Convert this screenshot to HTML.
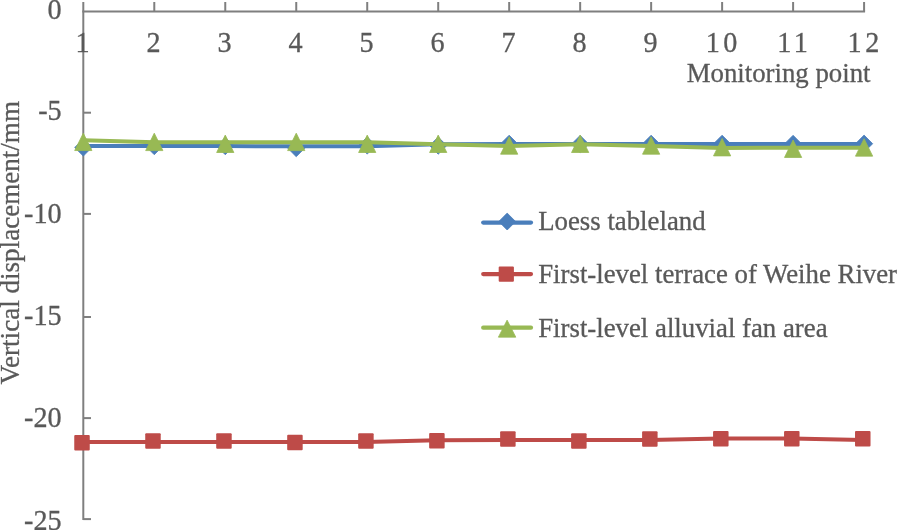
<!DOCTYPE html><html><head><meta charset="utf-8"><style>html,body{margin:0;padding:0;background:#fff;width:900px;height:530px;overflow:hidden}svg{display:block}text{font-family:"Liberation Serif","Times New Roman",serif;fill:#595959;font-size:26.8px;stroke:#595959;stroke-width:0.3px}</style></head><body>
<svg width="900" height="530" viewBox="0 0 900 530">
<rect width="900" height="530" fill="#fff"/>
<g stroke="#7f7f7f" stroke-width="2" fill="none">
<line x1="83.3" y1="2" x2="83.3" y2="520.1"/>
<line x1="82.3" y1="11.4" x2="865.08" y2="11.4"/>
<line x1="154.28" y1="2" x2="154.28" y2="11.4"/>
<line x1="225.26" y1="2" x2="225.26" y2="11.4"/>
<line x1="296.24" y1="2" x2="296.24" y2="11.4"/>
<line x1="367.22" y1="2" x2="367.22" y2="11.4"/>
<line x1="438.20" y1="2" x2="438.20" y2="11.4"/>
<line x1="509.18" y1="2" x2="509.18" y2="11.4"/>
<line x1="580.16" y1="2" x2="580.16" y2="11.4"/>
<line x1="651.14" y1="2" x2="651.14" y2="11.4"/>
<line x1="722.12" y1="2" x2="722.12" y2="11.4"/>
<line x1="793.10" y1="2" x2="793.10" y2="11.4"/>
<line x1="864.08" y1="2" x2="864.08" y2="11.4"/>
<line x1="83.3" y1="112.70" x2="91" y2="112.70"/>
<line x1="83.3" y1="213.90" x2="91" y2="213.90"/>
<line x1="83.3" y1="317.00" x2="91" y2="317.00"/>
<line x1="83.3" y1="418.10" x2="91" y2="418.10"/>
<line x1="83.3" y1="519.10" x2="91" y2="519.10"/>
</g>
<text transform="translate(61.70 19.00) scale(1 1.035)" text-anchor="end" style="font-size:28.2px">0</text>
<text transform="translate(61.70 120.10) scale(1 1.035)" text-anchor="end" style="font-size:28.2px">-5</text>
<text transform="translate(61.70 222.60) scale(1 1.035)" text-anchor="end" style="font-size:28.2px">-10</text>
<text transform="translate(61.70 325.10) scale(1 1.035)" text-anchor="end" style="font-size:28.2px">-15</text>
<text transform="translate(61.70 427.20) scale(1 1.035)" text-anchor="end" style="font-size:28.2px">-20</text>
<text transform="translate(61.70 530.30) scale(1 1.035)" text-anchor="end" style="font-size:28.2px">-25</text>
<text transform="translate(82.60 52.20) scale(1 1.035)" text-anchor="middle" style="font-size:28.2px">1</text>
<text transform="translate(153.58 52.20) scale(1 1.035)" text-anchor="middle" style="font-size:28.2px">2</text>
<text transform="translate(224.56 52.20) scale(1 1.035)" text-anchor="middle" style="font-size:28.2px">3</text>
<text transform="translate(295.54 52.20) scale(1 1.035)" text-anchor="middle" style="font-size:28.2px">4</text>
<text transform="translate(366.52 52.20) scale(1 1.035)" text-anchor="middle" style="font-size:28.2px">5</text>
<text transform="translate(437.50 52.20) scale(1 1.035)" text-anchor="middle" style="font-size:28.2px">6</text>
<text transform="translate(508.48 52.20) scale(1 1.035)" text-anchor="middle" style="font-size:28.2px">7</text>
<text transform="translate(579.46 52.20) scale(1 1.035)" text-anchor="middle" style="font-size:28.2px">8</text>
<text transform="translate(650.44 52.20) scale(1 1.035)" text-anchor="middle" style="font-size:28.2px">9</text>
<text transform="translate(723.32 52.20) scale(1 1.035)" text-anchor="middle" letter-spacing="3.6" style="font-size:28.2px">10</text>
<text transform="translate(794.30 52.20) scale(1 1.035)" text-anchor="middle" letter-spacing="3.6" style="font-size:28.2px">11</text>
<text transform="translate(865.28 52.20) scale(1 1.035)" text-anchor="middle" letter-spacing="3.6" style="font-size:28.2px">12</text>
<text transform="translate(870.50 81.50) scale(1 1.04)" text-anchor="end" >Monitoring point</text>
<text transform="translate(19 384.5) rotate(-90) scale(1 1.04)" text-anchor="start" style="font-size:27.1px">Vertical displacement/mm</text>
<polyline points="83.30,145.95 154.28,146.00 225.26,146.10 296.24,146.20 367.22,146.20 438.20,144.20 509.18,143.90 580.16,143.90 651.14,143.90 722.12,143.90 793.10,143.90 864.08,143.90" fill="none" stroke="#4a7ebb" stroke-width="4" stroke-linejoin="round" stroke-linecap="round"/>
<path d="M83.30 138.90L91.90 147.50L83.30 156.10L74.70 147.50Z" fill="#4a7ebb" stroke="#4a7ebb" stroke-width="0.8" stroke-linejoin="round"/>
<path d="M154.28 137.50L162.88 146.10L154.28 154.70L145.68 146.10Z" fill="#4a7ebb" stroke="#4a7ebb" stroke-width="0.8" stroke-linejoin="round"/>
<path d="M225.26 137.50L233.86 146.10L225.26 154.70L216.66 146.10Z" fill="#4a7ebb" stroke="#4a7ebb" stroke-width="0.8" stroke-linejoin="round"/>
<path d="M296.24 139.50L304.84 148.10L296.24 156.70L287.64 148.10Z" fill="#4a7ebb" stroke="#4a7ebb" stroke-width="0.8" stroke-linejoin="round"/>
<path d="M367.22 136.90L375.82 145.50L367.22 154.10L358.62 145.50Z" fill="#4a7ebb" stroke="#4a7ebb" stroke-width="0.8" stroke-linejoin="round"/>
<path d="M438.20 137.00L446.80 145.60L438.20 154.20L429.60 145.60Z" fill="#4a7ebb" stroke="#4a7ebb" stroke-width="0.8" stroke-linejoin="round"/>
<path d="M509.18 135.20L517.78 143.80L509.18 152.40L500.58 143.80Z" fill="#4a7ebb" stroke="#4a7ebb" stroke-width="0.8" stroke-linejoin="round"/>
<path d="M580.16 135.40L588.76 144.00L580.16 152.60L571.56 144.00Z" fill="#4a7ebb" stroke="#4a7ebb" stroke-width="0.8" stroke-linejoin="round"/>
<path d="M651.14 135.20L659.74 143.80L651.14 152.40L642.54 143.80Z" fill="#4a7ebb" stroke="#4a7ebb" stroke-width="0.8" stroke-linejoin="round"/>
<path d="M722.12 135.20L730.72 143.80L722.12 152.40L713.52 143.80Z" fill="#4a7ebb" stroke="#4a7ebb" stroke-width="0.8" stroke-linejoin="round"/>
<path d="M793.10 135.30L801.70 143.90L793.10 152.50L784.50 143.90Z" fill="#4a7ebb" stroke="#4a7ebb" stroke-width="0.8" stroke-linejoin="round"/>
<path d="M864.08 135.10L872.68 143.70L864.08 152.30L855.48 143.70Z" fill="#4a7ebb" stroke="#4a7ebb" stroke-width="0.8" stroke-linejoin="round"/>
<polyline points="82.00,442.10 152.98,442.10 223.96,442.10 294.94,442.10 365.92,442.10 436.90,440.20 507.88,440.10 578.86,440.10 649.84,440.10 720.82,438.50 791.80,438.40 862.78,440.00" fill="none" stroke="#be4b48" stroke-width="4" stroke-linejoin="round" stroke-linecap="round"/>
<rect x="74.25" y="434.95" width="15.50" height="15.50" rx="1" fill="#be4b48"/>
<rect x="145.23" y="433.25" width="15.50" height="15.50" rx="1" fill="#be4b48"/>
<rect x="216.21" y="433.25" width="15.50" height="15.50" rx="1" fill="#be4b48"/>
<rect x="287.19" y="434.75" width="15.50" height="15.50" rx="1" fill="#be4b48"/>
<rect x="358.17" y="433.25" width="15.50" height="15.50" rx="1" fill="#be4b48"/>
<rect x="429.15" y="433.05" width="15.50" height="15.50" rx="1" fill="#be4b48"/>
<rect x="500.13" y="431.15" width="15.50" height="15.50" rx="1" fill="#be4b48"/>
<rect x="571.11" y="433.15" width="15.50" height="15.50" rx="1" fill="#be4b48"/>
<rect x="642.09" y="431.15" width="15.50" height="15.50" rx="1" fill="#be4b48"/>
<rect x="713.07" y="430.95" width="15.50" height="15.50" rx="1" fill="#be4b48"/>
<rect x="784.05" y="431.05" width="15.50" height="15.50" rx="1" fill="#be4b48"/>
<rect x="855.03" y="431.05" width="15.50" height="15.50" rx="1" fill="#be4b48"/>
<polyline points="83.30,140.30 154.28,142.30 225.26,142.20 296.24,142.20 367.22,142.30 438.20,144.20 509.18,146.00 580.16,144.30 651.14,146.10 722.12,147.90 793.10,147.85 864.08,147.85" fill="none" stroke="#98b954" stroke-width="4" stroke-linejoin="round" stroke-linecap="round"/>
<path d="M83.30 133.15L91.90 150.55L74.70 150.55Z" fill="#98b954" stroke="#98b954" stroke-width="0.8" stroke-linejoin="round"/>
<path d="M154.28 133.20L162.88 150.60L145.68 150.60Z" fill="#98b954" stroke="#98b954" stroke-width="0.8" stroke-linejoin="round"/>
<path d="M225.26 135.10L233.86 152.50L216.66 152.50Z" fill="#98b954" stroke="#98b954" stroke-width="0.8" stroke-linejoin="round"/>
<path d="M296.24 133.20L304.84 150.60L287.64 150.60Z" fill="#98b954" stroke="#98b954" stroke-width="0.8" stroke-linejoin="round"/>
<path d="M367.22 135.10L375.82 152.50L358.62 152.50Z" fill="#98b954" stroke="#98b954" stroke-width="0.8" stroke-linejoin="round"/>
<path d="M438.20 135.10L446.80 152.50L429.60 152.50Z" fill="#98b954" stroke="#98b954" stroke-width="0.8" stroke-linejoin="round"/>
<path d="M509.18 136.80L517.78 154.20L500.58 154.20Z" fill="#98b954" stroke="#98b954" stroke-width="0.8" stroke-linejoin="round"/>
<path d="M580.16 135.10L588.76 152.50L571.56 152.50Z" fill="#98b954" stroke="#98b954" stroke-width="0.8" stroke-linejoin="round"/>
<path d="M651.14 136.80L659.74 154.20L642.54 154.20Z" fill="#98b954" stroke="#98b954" stroke-width="0.8" stroke-linejoin="round"/>
<path d="M722.12 138.50L730.72 155.90L713.52 155.90Z" fill="#98b954" stroke="#98b954" stroke-width="0.8" stroke-linejoin="round"/>
<path d="M793.10 140.05L801.70 157.45L784.50 157.45Z" fill="#98b954" stroke="#98b954" stroke-width="0.8" stroke-linejoin="round"/>
<path d="M864.08 138.75L872.68 156.15L855.48 156.15Z" fill="#98b954" stroke="#98b954" stroke-width="0.8" stroke-linejoin="round"/>
<line x1="483.2" y1="222.55" x2="531" y2="222.55" stroke="#4a7ebb" stroke-width="4.2" stroke-linecap="round"/>
<path d="M507.20 213.10L515.65 221.55L507.20 230.00L498.75 221.55Z" fill="#4a7ebb" stroke="#4a7ebb" stroke-width="0.8" stroke-linejoin="round"/>
<text transform="translate(538.20 230.40) scale(1 1.04)" text-anchor="start" >Loess tableland</text>
<line x1="483.2" y1="274.05" x2="531" y2="274.05" stroke="#be4b48" stroke-width="4.2" stroke-linecap="round"/>
<rect x="498.70" y="266.45" width="15.20" height="15.20" rx="1" fill="#be4b48"/>
<text transform="translate(538.20 283.30) scale(1 1.04)" text-anchor="start" >First-level terrace of Weihe River</text>
<line x1="483.2" y1="327.65" x2="531" y2="327.65" stroke="#98b954" stroke-width="4.2" stroke-linecap="round"/>
<path d="M507.10 320.15L515.80 337.15L498.40 337.15Z" fill="#98b954" stroke="#98b954" stroke-width="0.8" stroke-linejoin="round"/>
<text transform="translate(538.20 336.50) scale(1 1.04)" text-anchor="start" >First-level alluvial fan area</text>
</svg></body></html>
